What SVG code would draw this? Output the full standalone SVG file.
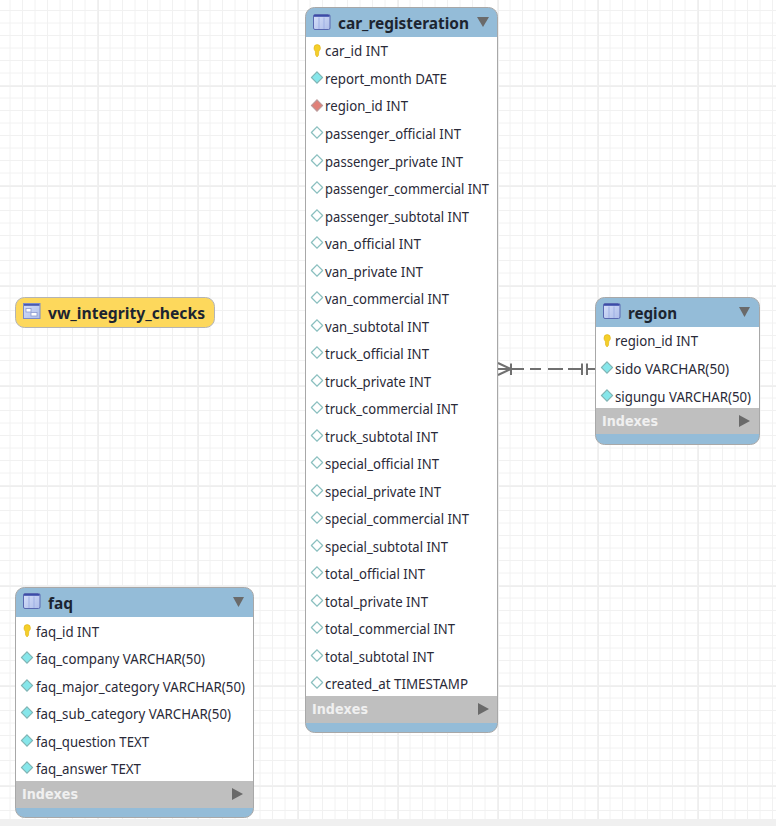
<svg xmlns="http://www.w3.org/2000/svg" width="776" height="826" viewBox="0 0 776 826">
<defs>
<style>
text{font-family:"Noto Sans","Liberation Sans",sans-serif;}
.row{font-size:13.5px;fill:#2a2a38;}
.title{font-size:15.5px;font-weight:700;fill:#1c2430;}
.idx{font-family:"DejaVu Sans",sans-serif;font-size:13.5px;font-weight:700;fill:#f0f0f0;}
.frame{fill:#94bcd8;stroke:#a8a8a8;stroke-width:1;}
.body{fill:#fff;}
.ixb{fill:#bfbfbf;}
.tri{fill:#6a6a6a;}
.major{stroke:#eeeeee;stroke-width:1;}
.conn{stroke:#707070;stroke-width:2;fill:none;}
</style>
<symbol id="key" viewBox="0 0 10 16" width="10" height="16" overflow="visible">
<path d="M2 5 a3.2 3.4 0 0 1 6.400 0 c0 2 -1.200 2.500 -1.600 3.500 L6.400 12.500 L5 14 L3.600 12 L3.400 8.500 C2.900 7.500 2 7 2 5z" fill="#f4cf2a" stroke="#e0b010" stroke-width=".6"/>
</symbol>
<symbol id="dc" viewBox="0 0 12 12" width="13" height="13"><path d="M6 .8 L11.200 6 L6 11.200 L.8 6z" fill="#86e6ea" stroke="#7fb3b3" stroke-width="1"/></symbol>
<symbol id="dr" viewBox="0 0 12 12" width="13" height="13"><path d="M6 .8 L11.200 6 L6 11.200 L.8 6z" fill="#e08078" stroke="#b99" stroke-width="1"/></symbol>
<symbol id="dh" viewBox="0 0 12 12" width="13" height="13"><path d="M6 .8 L11.200 6 L6 11.200 L.8 6z" fill="#fff" stroke="#8cc0c0" stroke-width="1.200"/></symbol>
<linearGradient id="ig" x1="0" y1="0" x2="1" y2="1"><stop offset="0" stop-color="#d6e0fa"/><stop offset="1" stop-color="#aebde8"/></linearGradient>
<symbol id="tbl" viewBox="0 0 18 16" width="18" height="16">
<rect x=".5" y=".5" width="16.500" height="15" rx="1.500" fill="url(#ig)" stroke="#5868b0"/>
<rect x="1" y="1" width="15.500" height="1.800" fill="#3c4ca8"/>
<path d="M6 3.500 V15 M11 3.500 V15" stroke="#9fb0e4" stroke-width="1"/>
</symbol>
<symbol id="viw" viewBox="0 0 18 16" width="18" height="16">
<rect x=".5" y=".5" width="16.500" height="15" fill="url(#ig)" stroke="#7a8ac8"/>
<rect x="1" y="1" width="15.500" height="1.800" fill="#4a5ab0"/>
<rect x="3" y="5.500" width="5" height="3.500" fill="#fff" stroke="#8a9ad0" stroke-width=".8"/>
<rect x="8" y="9.500" width="6" height="3.500" fill="#fff" stroke="#8a9ad0" stroke-width=".8"/>
</symbol>
<pattern id="gm" width="12.5" height="12.5" patternUnits="userSpaceOnUse" x="-2" y="-1.5">
<path d="M12.500 0 V12.500 M0 12.500 H12.500" stroke="#f1f1f1" stroke-width="2" fill="none"/>
</pattern>
</defs>
<rect width="776" height="826" fill="#fff"/>
<rect id="grid" width="776" height="819" fill="url(#gm)"/>
<g id="grid-major" class="major">
<path d="M98.500 0V819M198.500 0V819M298.500 0V819M398.500 0V819M498.500 0V819M598.500 0V819M698.500 0V819M0 86.500H776M0 186.500H776M0 286.500H776M0 386.500H776M0 486.500H776M0 586.500H776M0 686.500H776M0 786.500H776" fill="none"/>
</g>
<rect id="page-band" y="819" width="776" height="7" fill="#f0f0f0"/>

<g id="connectors">
<path class="conn" d="M498 363 L511 369 L498 375"/>
<path class="conn" d="M511 363.500V375 M498 369H524 M530 369H541 M548 369H563 M568 369H582 M582 363.500V375 M587 363.500V375 M587 369H595"/>
</g>

<g id="vw_integrity_checks">
<rect x="15.500" y="297.500" width="199" height="30" rx="9" fill="#fdd85c" stroke="#b4b4b4"/>
<use href="#viw" x="23" y="303"/>
<text class="title" x="48" y="319" textLength="157" lengthAdjust="spacingAndGlyphs" fill="#1a1a10">vw_integrity_checks</text>
</g>

<g id="car_registeration">
<rect class="frame" x="305.500" y="7.500" width="192" height="725" rx="9"/>
<rect class="body" x="306" y="37" width="191" height="659"/>
<rect class="ixb" x="306" y="696" width="191" height="27"/>
<use href="#tbl" x="313" y="14"/>
<text class="title" x="338" y="29" textLength="131" lengthAdjust="spacingAndGlyphs">car_registeration</text>
<path class="tri" d="M477 17 H489 L483 27z"/>
<use href="#key" x="312" y="43"/><text class="row" x="325" y="56" textLength="63" lengthAdjust="spacingAndGlyphs">car_id INT</text>
<use href="#dc" x="310.500" y="71"/><text class="row" x="325" y="84" textLength="122" lengthAdjust="spacingAndGlyphs">report_month DATE</text>
<use href="#dr" x="310.500" y="99"/><text class="row" x="325" y="111" textLength="83" lengthAdjust="spacingAndGlyphs">region_id INT</text>
<use href="#dh" x="310.500" y="126"/><text class="row" x="325" y="139" textLength="136" lengthAdjust="spacingAndGlyphs">passenger_official INT</text>
<use href="#dh" x="310.500" y="154"/><text class="row" x="325" y="167" textLength="138" lengthAdjust="spacingAndGlyphs">passenger_private INT</text>
<use href="#dh" x="310.500" y="181"/><text class="row" x="325" y="194" textLength="164" lengthAdjust="spacingAndGlyphs">passenger_commercial INT</text>
<use href="#dh" x="310.500" y="209"/><text class="row" x="325" y="222" textLength="144" lengthAdjust="spacingAndGlyphs">passenger_subtotal INT</text>
<use href="#dh" x="310.500" y="236"/><text class="row" x="325" y="249" textLength="96" lengthAdjust="spacingAndGlyphs">van_official INT</text>
<use href="#dh" x="310.500" y="264"/><text class="row" x="325" y="277" textLength="98" lengthAdjust="spacingAndGlyphs">van_private INT</text>
<use href="#dh" x="310.500" y="291"/><text class="row" x="325" y="304" textLength="124" lengthAdjust="spacingAndGlyphs">van_commercial INT</text>
<use href="#dh" x="310.500" y="319"/><text class="row" x="325" y="332" textLength="104" lengthAdjust="spacingAndGlyphs">van_subtotal INT</text>
<use href="#dh" x="310.500" y="346"/><text class="row" x="325" y="359" textLength="104" lengthAdjust="spacingAndGlyphs">truck_official INT</text>
<use href="#dh" x="310.500" y="374"/><text class="row" x="325" y="387" textLength="106" lengthAdjust="spacingAndGlyphs">truck_private INT</text>
<use href="#dh" x="310.500" y="401"/><text class="row" x="325" y="414" textLength="133" lengthAdjust="spacingAndGlyphs">truck_commercial INT</text>
<use href="#dh" x="310.500" y="429"/><text class="row" x="325" y="442" textLength="113" lengthAdjust="spacingAndGlyphs">truck_subtotal INT</text>
<use href="#dh" x="310.500" y="456"/><text class="row" x="325" y="469" textLength="114" lengthAdjust="spacingAndGlyphs">special_official INT</text>
<use href="#dh" x="310.500" y="484"/><text class="row" x="325" y="497" textLength="116" lengthAdjust="spacingAndGlyphs">special_private INT</text>
<use href="#dh" x="310.500" y="511"/><text class="row" x="325" y="524" textLength="144" lengthAdjust="spacingAndGlyphs">special_commercial INT</text>
<use href="#dh" x="310.500" y="539"/><text class="row" x="325" y="552" textLength="123" lengthAdjust="spacingAndGlyphs">special_subtotal INT</text>
<use href="#dh" x="310.500" y="566"/><text class="row" x="325" y="579" textLength="100" lengthAdjust="spacingAndGlyphs">total_official INT</text>
<use href="#dh" x="310.500" y="594"/><text class="row" x="325" y="607" textLength="103" lengthAdjust="spacingAndGlyphs">total_private INT</text>
<use href="#dh" x="310.500" y="621"/><text class="row" x="325" y="634" textLength="130" lengthAdjust="spacingAndGlyphs">total_commercial INT</text>
<use href="#dh" x="310.500" y="649"/><text class="row" x="325" y="662" textLength="109" lengthAdjust="spacingAndGlyphs">total_subtotal INT</text>
<use href="#dh" x="310.500" y="676"/><text class="row" x="325" y="689" textLength="143" lengthAdjust="spacingAndGlyphs">created_at TIMESTAMP</text>
<text class="idx" x="312" y="714" textLength="56" lengthAdjust="spacingAndGlyphs">Indexes</text>
<path class="tri" d="M478 703 L489 709 L478 715z"/>
</g>

<g id="region">
<rect class="frame" x="595.500" y="297.500" width="164" height="147" rx="9"/>
<rect class="body" x="596" y="327" width="163" height="81"/>
<rect class="ixb" x="596" y="408" width="163" height="26"/>
<use href="#tbl" x="603" y="303"/>
<text class="title" x="628" y="319" textLength="49" lengthAdjust="spacingAndGlyphs">region</text>
<path class="tri" d="M739 307 H750 L744.500 317z"/>
<use href="#key" x="602" y="333"/><text class="row" x="615" y="346" textLength="83" lengthAdjust="spacingAndGlyphs">region_id INT</text>
<use href="#dc" x="600.500" y="361"/><text class="row" x="615" y="374" textLength="114" lengthAdjust="spacingAndGlyphs">sido VARCHAR(50)</text>
<use href="#dc" x="600.500" y="389"/><text class="row" x="615" y="402" textLength="136" lengthAdjust="spacingAndGlyphs">sigungu VARCHAR(50)</text>
<text class="idx" x="602" y="426" textLength="56" lengthAdjust="spacingAndGlyphs">Indexes</text>
<path class="tri" d="M739 415 L750 421 L739 427z"/>
</g>

<g id="faq">
<rect class="frame" x="15.500" y="587.500" width="238" height="230" rx="9"/>
<rect class="body" x="16" y="617" width="237" height="164"/>
<rect class="ixb" x="16" y="781" width="237" height="27"/>
<use href="#tbl" x="23" y="593"/>
<text class="title" x="48" y="609" textLength="25" lengthAdjust="spacingAndGlyphs">faq</text>
<path class="tri" d="M233 597 H244 L238.500 607z"/>
<use href="#key" x="22" y="623"/><text class="row" x="36" y="637" textLength="63" lengthAdjust="spacingAndGlyphs">faq_id INT</text>
<use href="#dc" x="20.500" y="651"/><text class="row" x="36" y="664" textLength="169" lengthAdjust="spacingAndGlyphs">faq_company VARCHAR(50)</text>
<use href="#dc" x="20.500" y="679"/><text class="row" x="36" y="692" textLength="209" lengthAdjust="spacingAndGlyphs">faq_major_category VARCHAR(50)</text>
<use href="#dc" x="20.500" y="706"/><text class="row" x="36" y="719" textLength="195" lengthAdjust="spacingAndGlyphs">faq_sub_category VARCHAR(50)</text>
<use href="#dc" x="20.500" y="734"/><text class="row" x="36" y="747" textLength="113" lengthAdjust="spacingAndGlyphs">faq_question TEXT</text>
<use href="#dc" x="20.500" y="761"/><text class="row" x="36" y="774" textLength="105" lengthAdjust="spacingAndGlyphs">faq_answer TEXT</text>
<text class="idx" x="22" y="799" textLength="56" lengthAdjust="spacingAndGlyphs">Indexes</text>
<path class="tri" d="M232 788 L243 794 L232 800z"/>
</g>
</svg>
